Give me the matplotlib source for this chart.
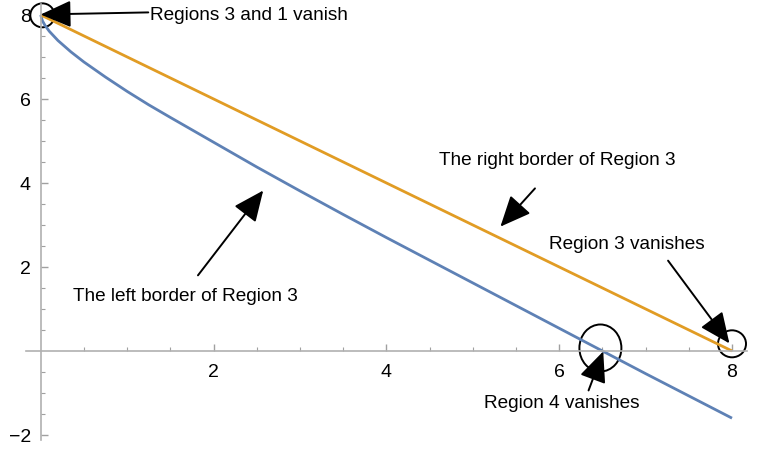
import matplotlib
matplotlib.use('Agg')
import matplotlib.pyplot as plt
from matplotlib.patches import Ellipse

plt.rcParams['font.family'] = ['Liberation Sans', 'DejaVu Sans']

# right border of Region 3 (straight line)
right_x = [0, 8]
right_y = [8, 0]

# left border of Region 3
left_x = [0, 0.02, 0.05, 0.1, 0.2, 0.35, 0.5, 0.75, 1.0, 1.25, 1.5, 2.0, 2.5,
          3.0, 3.5, 4.0, 4.5, 5.0, 5.5, 6.0, 6.5, 7.0, 7.5, 8.0]
left_y = [8, 7.86, 7.75, 7.61, 7.39, 7.12, 6.88, 6.52, 6.18, 5.86, 5.56, 4.97,
          4.38, 3.81, 3.25, 2.7, 2.16, 1.62, 1.08, 0.54, 0.0, -0.54, -1.07, -1.6]

x_ticks = [2, 4, 6, 8]
y_ticks = [-2, 2, 4, 6, 8]

# annotations: text, text position, arrow start, arrow tip
notes = [
    ("Regions 3 and 1 vanish", (1.27, 8.01), (1.245, 8.06), (0.0, 8.01), 'left'),
    ("The right border of Region 3", (5.98, 4.56), (5.72, 3.87), (5.32, 2.96), 'center'),
    ("The left border of Region 3", (1.67, 1.32), (1.82, 1.80), (2.575, 3.82), 'center'),
    ("Region 3 vanishes", (6.78, 2.56), (7.26, 2.15), (7.97, 0.18), 'center'),
    ("Region 4 vanishes", (6.03, -1.23), (6.34, -0.94), (6.51, -0.01), 'center'),
]

# circled spots: centre, width, height
rings = [((0.02, 7.99), 0.28, 0.57),
         ((8.0, 0.17), 0.324, 0.643),
         ((6.477, 0.07), 0.486, 1.12)]

fig = plt.figure(figsize=(7.7, 4.52), dpi=100)
ax = fig.add_axes([26 / 770, 1 - 441 / 452, 720.7 / 770, 436 / 452])

ax.plot(left_x, left_y, color='#5E81B5', lw=2.0, solid_capstyle='butt')
ax.plot(right_x, right_y, color='#E19C24', lw=2.0, solid_capstyle='butt')

ax.set_xlim(-0.17, 8.17)
ax.set_ylim(-2.12, 8.26)

for s in ['top', 'right']:
    ax.spines[s].set_visible(False)
for s in ['left', 'bottom']:
    ax.spines[s].set_position(('data', 0))
    ax.spines[s].set_color('#b0b0b0')
    ax.spines[s].set_linewidth(1.2)

ax.set_xticks(x_ticks)
ax.set_yticks(y_ticks)
ax.set_xticks([v / 2 for v in range(1, 17)], minor=True)
ax.set_yticks([v / 2 for v in range(-4, 17) if v != 0], minor=True)
ax.tick_params(which='major', direction='in', length=5, width=1, color='#a0a0a0',
               labelsize=14, pad=7)
ax.tick_params(axis='x', which='major', pad=9)
ax.tick_params(which='minor', direction='in', length=3, width=0.8, color='#a0a0a0')
ax.set_yticklabels(['\u22122', '2', '4', '6', '8'])

ax.text(8.5, -0.1, 'c', fontsize=14, style='italic', va='center', ha='left',
        clip_on=False)

for txt, pos, start, tip, ha in notes:
    ax.annotate('', xy=tip, xytext=start,
                arrowprops=dict(arrowstyle='-|>,head_length=0.95,head_width=0.42',
                                mutation_scale=20, lw=1.4, color='black',
                                shrinkA=0, shrinkB=0))
    ax.text(pos[0], pos[1], txt, fontsize=13.7, ha=ha, va='center')

for c, w, h in rings:
    ax.add_patch(Ellipse(c, w, h, fill=False, ec='black', lw=1.4, clip_on=False))

fig.savefig('out.png', dpi=100)
